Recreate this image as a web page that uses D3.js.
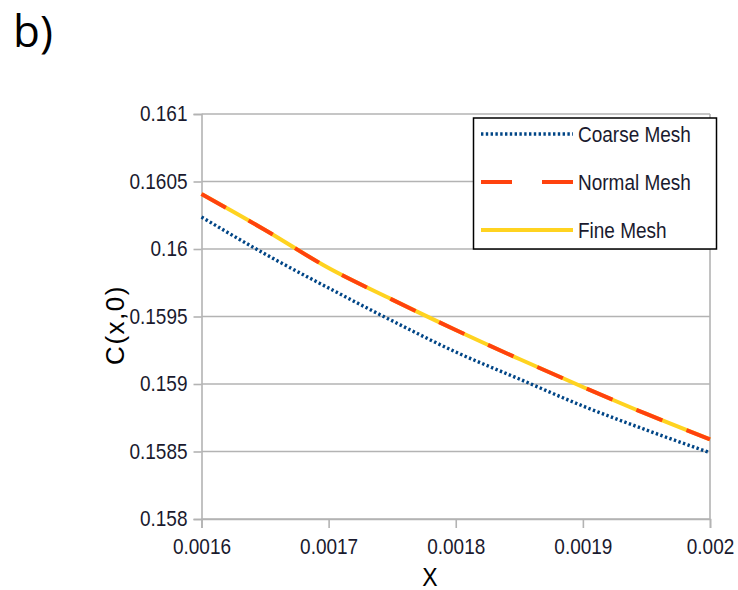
<!DOCTYPE html>
<html>
<head>
<meta charset="utf-8">
<script src="https://cdn.jsdelivr.net/npm/d3@7/dist/d3.min.js"></script>
<style>
  html, body { margin: 0; padding: 0; background: #fff; }
  svg { display: block; }
  .tall { transform-box: fill-box; transform-origin: center; transform: scaleY(1.12); }
</style>
</head>
<body>
<svg id="chart" width="738" height="590"></svg>
<script>
// Position along x and concentration C(x,0) for three mesh resolutions
const xValues      = [0.0016, 0.00165, 0.0017, 0.00175, 0.0018, 0.00185, 0.0019, 0.00195, 0.002];
const coarseMesh   = [0.160237, 0.159963, 0.159711, 0.159468, 0.159237, 0.159037, 0.158837, 0.158659, 0.158491];
const normalMesh   = [0.160407, 0.160141, 0.159859, 0.159625, 0.159400, 0.159185, 0.158978, 0.158778, 0.158590];
const fineMesh     = [0.160407, 0.160141, 0.159859, 0.159625, 0.159400, 0.159185, 0.158978, 0.158778, 0.158590];
const xTicks       = [0.0016, 0.0017, 0.0018, 0.0019, 0.002];
const yTicks       = [0.158, 0.1585, 0.159, 0.1595, 0.16, 0.1605, 0.161];
const seriesNames  = ["Coarse Mesh", "Normal Mesh", "Fine Mesh"];

const svg = d3.select("#chart");
const font = "'Liberation Sans', Arial, sans-serif";
const grid = "#b3b3b3";

const plotLeft = 201.5, plotRight = 710, plotTop = 114, plotBottom = 519;
const x = d3.scaleLinear().domain([0.0016, 0.002]).range([plotLeft, plotRight]);
const y = d3.scaleLinear().domain([0.158, 0.161]).range([plotBottom, plotTop]);

// panel label
svg.append("text").attr("x", 13).attr("y", 47)
  .attr("font-family", "'Open Sans', sans-serif").attr("font-size", 44)
  .attr("fill", "#000").text("b)");

// horizontal grid lines
svg.append("g").selectAll("line").data(yTicks).join("line")
  .attr("x1", plotLeft).attr("x2", plotRight)
  .attr("y1", d => y(d)).attr("y2", d => y(d))
  .attr("stroke", grid).attr("stroke-width", 1.6);

// right frame edge
svg.append("line").attr("x1", plotRight).attr("x2", plotRight).attr("y1", plotTop).attr("y2", plotBottom)
  .attr("stroke", grid).attr("stroke-width", 1.6);

// y axis
const yAxis = svg.append("g").attr("transform", `translate(${plotLeft},0)`)
  .call(d3.axisLeft(y).tickValues(yTicks).tickSize(8).tickPadding(6)
    .tickFormat(d => String(+d.toFixed(4))));
// x axis
const xAxis = svg.append("g").attr("transform", `translate(0,${plotBottom})`)
  .call(d3.axisBottom(x).tickValues(xTicks).tickSize(9).tickPadding(12)
    .tickFormat(d => String(+d.toFixed(4))));

[yAxis, xAxis].forEach(g => {
  g.select(".domain").attr("stroke", grid).attr("stroke-width", 1.6);
  g.selectAll(".tick line").attr("stroke", grid).attr("stroke-width", 1.6);
  g.selectAll(".tick text").attr("class", "tall")
    .attr("font-family", font).attr("font-size", 19).attr("fill", "#1a1a2e");
});

// axis titles
svg.append("text").attr("class", "tall").attr("x", 430).attr("y", 585).attr("text-anchor", "middle")
  .attr("font-family", font).attr("font-size", 23).attr("fill", "#000").text("X");
svg.append("text").attr("transform", "translate(124,325) rotate(-90)").attr("text-anchor", "middle")
  .attr("font-family", font).attr("font-size", 26).attr("letter-spacing", 1.5).attr("fill", "#000").text("C(x,0)");

// series lines
const line = d3.line().x((d, i) => x(xValues[i])).y(d => y(d)).curve(d3.curveMonotoneX);
const styles = [
  { data: coarseMesh, color: "#004586", width: 3.4, dash: "2.4,2.4" },
  { data: fineMesh,   color: "#ffd320", width: 4,   dash: null },
  { data: normalMesh, color: "#ff420e", width: 4,   dash: "28,26" }
];
const plot = svg.append("g");
styles.forEach(s => {
  plot.append("path").datum(s.data).attr("d", line)
    .attr("fill", "none").attr("stroke", s.color).attr("stroke-width", s.width)
    .attr("stroke-dasharray", s.dash);
});

// legend
const legend = svg.append("g");
legend.append("rect").attr("x", 473.5).attr("y", 118).attr("width", 243).attr("height", 131)
  .attr("fill", "#fff").attr("stroke", "#000").attr("stroke-width", 1.5);
const legendStyles = [
  { color: "#004586", width: 3.4, dash: "2.4,2.4" },
  { color: "#ff420e", width: 4, dash: "31,30" },
  { color: "#ffd320", width: 4, dash: null }
];
const rowY = [134, 182, 230];
seriesNames.forEach((name, i) => {
  legend.append("line").attr("x1", 481).attr("x2", 573).attr("y1", rowY[i]).attr("y2", rowY[i])
    .attr("stroke", legendStyles[i].color).attr("stroke-width", legendStyles[i].width)
    .attr("stroke-dasharray", legendStyles[i].dash);
  legend.append("text").attr("class", "tall").attr("x", 578).attr("y", rowY[i] + 7)
    .attr("font-family", font).attr("font-size", 19).attr("fill", "#1a1a2e").text(name);
});
</script>
</body>
</html>
